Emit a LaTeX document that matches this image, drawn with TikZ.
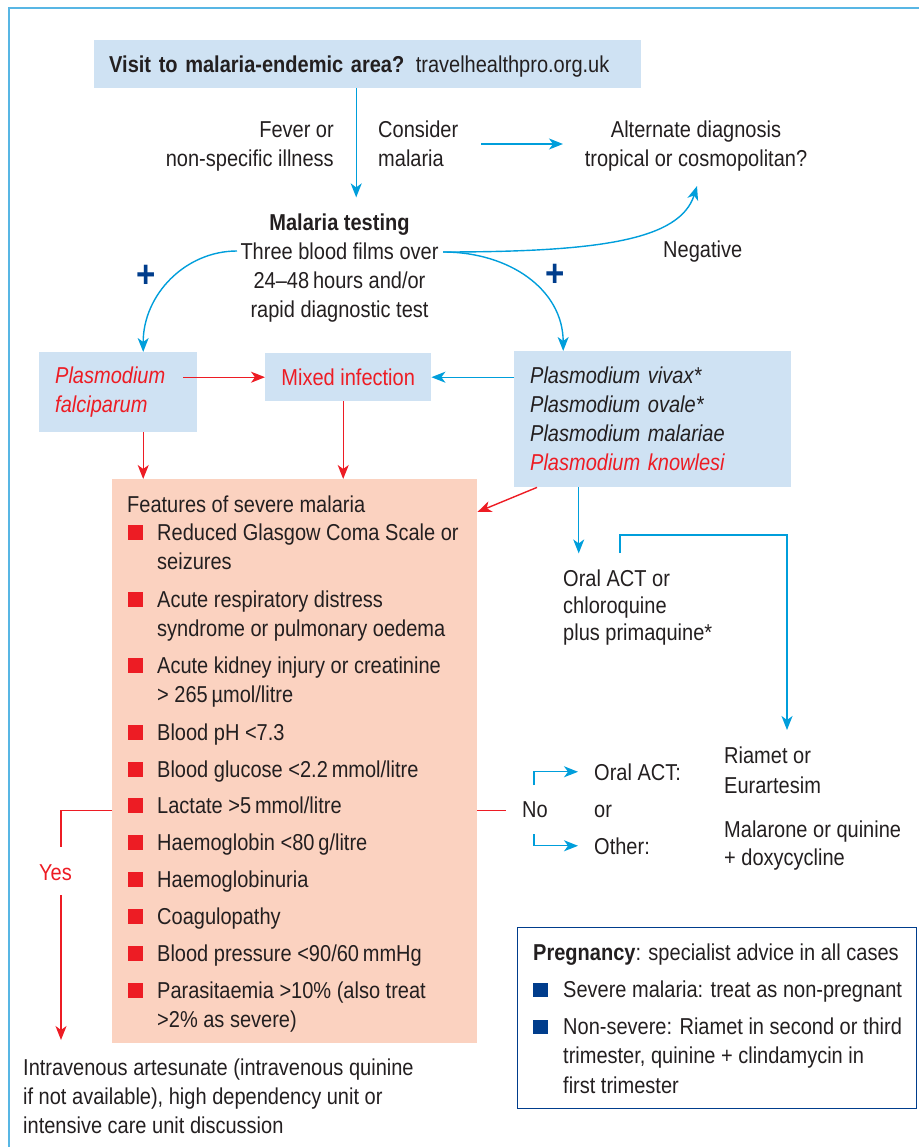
\documentclass[tikz,border=0pt]{standalone}
\usepackage{fontspec}
\setmainfont{Liberation Sans}[FakeStretch=0.87]
\usetikzlibrary{arrows.meta}
\definecolor{ink}{RGB}{35,31,32}
\definecolor{flowblue}{RGB}{0,158,219}
\definecolor{frameblue}{RGB}{88,182,228}
\definecolor{boxblue}{RGB}{207,226,243}
\definecolor{salmon}{RGB}{251,210,192}
\definecolor{alertred}{RGB}{237,28,36}
\definecolor{navy}{RGB}{0,61,140}
\tikzset{
  >={Stealth[length=14pt,width=11pt,inset=4pt]},
  txt/.style={inner sep=0pt, anchor=base west, align=left, text=ink},
  bluebox/.style={fill=boxblue, inner sep=0pt, anchor=north west},
  bluearr/.style={->, flowblue, line width=1.4pt},
  redarr/.style={->, alertred, line width=1.4pt},
  redline/.style={alertred, line width=1.4pt},
  redsq/.style={fill=alertred, inner sep=0pt, minimum size=15pt, anchor=south west},
  navysq/.style={fill=navy, inner sep=0pt, minimum width=15pt, minimum height=14pt, anchor=south west},
  plus/.style={text=navy, inner sep=0pt, font=\fontsize{38}{38}\selectfont\bfseries},
}

\begin{document}
\begin{tikzpicture}[x=1pt, y=-1pt, font=\fontsize{23}{29}\selectfont]
\useasboundingbox (0,0) rectangle (918,1147);
% frame
\draw[frameblue, line width=2pt] (8.5,1150) -- (8.5,8) -- (920,8);

% top part (multi-line nodes sit on the baseline of their last line)
\node[bluebox, minimum width=547pt, minimum height=48pt, text width=517pt, inner xsep=15pt,
      text depth=0pt, align=left, text=ink] (visit) at (94,40)
      {\textbf{Visit to malaria-endemic area?} travelhealthpro.org.uk};
\node[txt, anchor=base east, align=right] (fever) at (334,167) {Fever or\\non-specific illness};
\node[txt] (consider) at (378,167) {Consider\\malaria};
\node[txt, anchor=base, align=center] (altdiag) at (696,167) {Alternate diagnosis\\tropical or cosmopolitan?};
\node[txt, anchor=base, align=center] (testing) at (339.5,317)
      {\textbf{Malaria testing}\\Three blood films over\\24--48\,hours and/or\\rapid diagnostic test};
\node[txt] (negative) at (663,258) {Negative};
\node[plus] (plusL) at (146.5,276) {+};
\node[plus] (plusR) at (555,275) {+};

\coordinate (splitL) at (237,251);
\coordinate (splitR) at (443,252);
\coordinate (altin) at (697,186);

% species boxes
\node[bluebox, minimum width=158pt, minimum height=80pt, text width=126pt, inner xsep=16pt,
      align=left, text=alertred, font=\fontsize{23}{29}\selectfont\itshape] (fal) at (39,352)
      {Plasmodium\\falciparum};
\node[bluebox, minimum width=166pt, minimum height=48pt, align=center, text=alertred] (mixed) at (265,353)
      {Mixed infection};
\node[bluebox, minimum width=277pt, minimum height=136pt, text width=245pt, inner xsep=16pt,
      align=left, text=ink, font=\fontsize{23}{29}\selectfont\itshape] (vivax) at (514,351)
      {Plasmodium vivax*\\Plasmodium ovale*\\Plasmodium malariae\\\textcolor{alertred}{Plasmodium knowlesi}};

% severe malaria
\node[fill=salmon, inner sep=0pt, minimum width=365pt, minimum height=564pt, anchor=north west] (severe) at (112,479) {};
\node[txt] (sevtitle) at (127,512) {Features of severe malaria};
\foreach \yb/\yl/\feat in {540/569/{Reduced Glasgow Coma Scale or\\seizures},
    607/636/{Acute respiratory distress\\syndrome or pulmonary oedema},
    673/702/{Acute kidney injury or creatinine\\> 265\,µmol/litre},
    740/740/{Blood pH <7.3},
    777/777/{Blood glucose <2.2\,mmol/litre},
    813/813/{Lactate >5\,mmol/litre},
    850/850/{Haemoglobin <80\,g/litre},
    887/887/{Haemoglobinuria},
    924/924/{Coagulopathy},
    961/961/{Blood pressure <90/60\,mmHg},
    998/1027/{Parasitaemia >10\% (also treat\\>2\% as severe)}}
{
  \node[redsq] (sq\yb) at (128,\yb) {};
  \node[txt] (sev\yb) at (157,\yl) {\feat};
}

% treatment side
\node[txt, font=\fontsize{23}{26.7}\selectfont] (oral) at (563,640) {Oral ACT or\\chloroquine\\plus primaquine*};
\node[txt, font=\fontsize{23}{30}\selectfont] (riamet) at (724,793) {Riamet or\\Eurartesim};
\node[txt, font=\fontsize{23}{28}\selectfont] (malarone) at (724,865) {Malarone or quinine\\+ doxycycline};
\node[txt] (no) at (522,817) {No};
\node[txt] (oralact) at (594,780) {Oral ACT:};
\node[txt] (or) at (594,817) {or};
\node[txt] (other) at (594,854) {Other:};
\node[txt, text=alertred] (yes) at (39,880) {Yes};
\node[txt] (iv) at (23,1133) {Intravenous artesunate (intravenous quinine\\if not available), high dependency unit or\\intensive care unit discussion};
\coordinate (riametin) at (787,730);

% pregnancy
\node[draw=navy, line width=0.8pt, inner sep=0pt, minimum width=399pt, minimum height=181pt, anchor=north west] (preg) at (517,927) {};
\node[txt] (pregtitle) at (533,960) {\textbf{Pregnancy}: specialist advice in all cases};
\node[navysq] (psq1) at (533,997) {};
\node[txt] (preg1) at (563,997) {Severe malaria: treat as non-pregnant};
\node[navysq] (psq2) at (533,1034) {};
\node[txt, font=\fontsize{23}{29.5}\selectfont] (preg2) at (563,1093) {Non-severe: Riamet in second or third\\trimester, quinine + clindamycin in\\first trimester};

% connectors
\draw[bluearr] ([xshift=-11.5pt]visit.south) -- ++(0,109);
\draw[bluearr] (481,144) -- (563,144);
\draw[bluearr] (splitL) .. controls (185,251) and (143,295) .. ([xshift=25pt]fal.north);
\draw[bluearr] (splitR) .. controls (510,252) and (563,290) .. ([xshift=-89.5pt]vivax.north);
\draw[bluearr] (splitR) .. controls (600,252) and (680,240) .. (altin);
\draw[redarr] ([xshift=-14pt]fal.east |- mixed.west) -- (mixed.west);
\draw[bluearr] (vivax.west |- mixed.east) -- (mixed.east);
\draw[redarr] ([xshift=25pt]fal.south) -- ([xshift=25pt]fal.south |- severe.north);
\draw[redarr] ([xshift=-5pt]mixed.south) -- ([xshift=-5pt]mixed.south |- severe.north);
\draw[redarr] ([xshift=23pt]vivax.south west) -- ([yshift=-33pt]severe.north east);
\draw[bluearr] ([xshift=-74pt]vivax.south) -- ++(0,66);
\draw[bluearr] (620,553) -- (620,535) -- (787,535) -- (riametin);
\draw[redline] ([yshift=-49pt]severe.east) -- ++(29,0);
\draw[bluearr] (534,785) |- ([xshift=-16pt]oralact.west);
\draw[bluearr] (534,834) |- ([xshift=-16pt]other.west);
\draw[redline] ([yshift=-49pt]severe.west) -| (61,847);
\draw[redarr] (61,895) -- (61,1040);
\end{tikzpicture}
\end{document}
